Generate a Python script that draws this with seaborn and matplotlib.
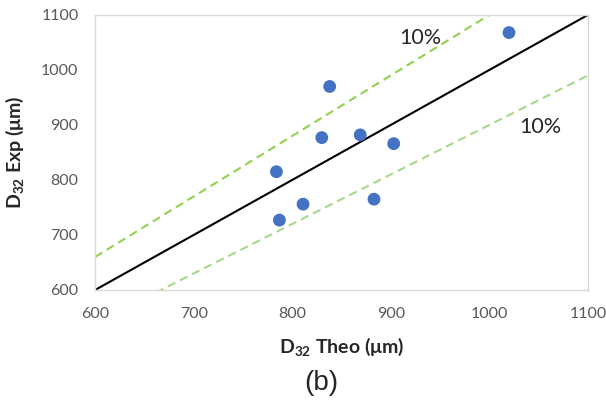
import numpy as np
import pandas as pd
import matplotlib
matplotlib.use("Agg")
import matplotlib.pyplot as plt
import seaborn as sns

# values
d32_theo = [784, 787, 811, 830, 838, 869, 883, 903, 1020]
d32_exp = [815, 727, 756, 877, 970, 882, 765, 866, 1068]
ref_x = [600, 1100]
band = 0.10

sns.set_style("white")
plt.rcParams['font.family'] = ['Lato', 'DejaVu Sans']
plt.rcParams['mathtext.fontset'] = 'custom'
plt.rcParams['mathtext.rm'] = 'Lato'
plt.rcParams['mathtext.bf'] = 'Lato:bold'

df = pd.DataFrame({'theo': d32_theo, 'exp': d32_exp})
lines = pd.DataFrame({'x': ref_x})
lines['parity'] = lines['x']
lines['upper'] = lines['x'] * (1 + band)
lines['lower'] = lines['x'] * (1 - band)

fig = plt.figure(figsize=(6.06, 4.16), dpi=100)
ax = fig.add_axes([0.157, 0.303, 0.813, 0.661])

sns.lineplot(data=lines, x='x', y='parity', ax=ax, color='black', linewidth=1.5)
sns.lineplot(data=lines, x='x', y='upper', ax=ax, color='#92D050',
             linewidth=1.5, linestyle=(0, (4, 2.5)))
sns.lineplot(data=lines, x='x', y='lower', ax=ax, color='#A9D88A',
             linewidth=1.5, linestyle=(0, (4, 2.5)))
sns.scatterplot(data=df, x='theo', y='exp', ax=ax, color='#4472C4',
                s=85, edgecolor='none', zorder=5)

ax.set_xlim(600, 1100)
ax.set_ylim(600, 1100)
ax.set_xticks(range(600, 1101, 100))
ax.set_yticks(range(600, 1101, 100))
ax.tick_params(length=0, labelsize=11.5, labelcolor='#595959', pad=12)
for s in ax.spines.values():
    s.set_color('#D9D9D9')
    s.set_linewidth(1)

ax.set_xlabel(r'D$_{\mathbf{32}}$ Theo (μm)', fontsize=14, fontweight='bold', labelpad=11)
ax.set_ylabel(r'D$_{\mathbf{32}}$ Exp (μm)', fontsize=14, fontweight='bold', labelpad=11)

ax.text(930, 1058, '10%', fontsize=15.5, ha='center', va='center')
ax.text(1052, 896, '10%', fontsize=15.5, ha='center', va='center')

fig.text(0.53, 0.08, '(b)', fontsize=20, ha='center', va='center',
         family=['Liberation Sans', 'DejaVu Sans'])

fig.savefig('out.png', dpi=100)
